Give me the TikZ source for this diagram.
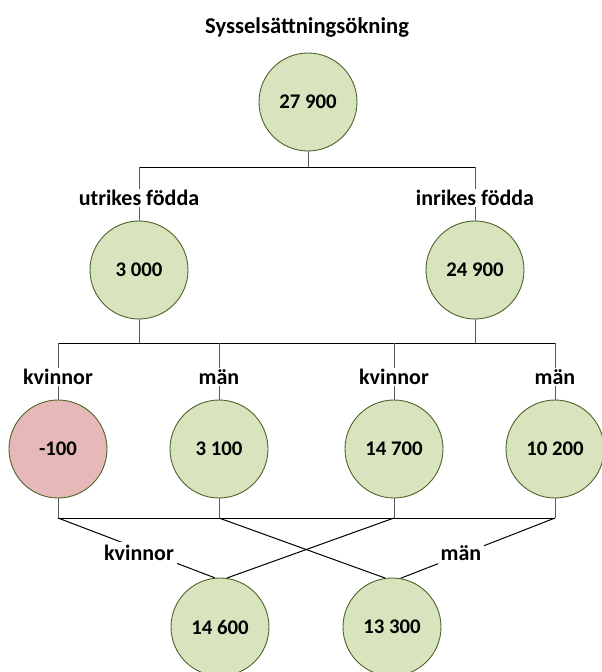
\documentclass[tikz,border=0pt]{standalone}
\usepackage{fontspec}
\setmainfont{Carlito}
\definecolor{cfill}{HTML}{D7E4BD}
\definecolor{rfill}{HTML}{E6B9B8}
\definecolor{cedge}{HTML}{4F6228}
\definecolor{lgray}{HTML}{5A5A5A}
\begin{document}
\begin{tikzpicture}[x=1pt,y=-1pt,
  circ/.style={circle, draw=cedge, line width=0.9pt, fill=cfill, minimum size=98pt, inner sep=0pt,
    font=\fontsize{20.8}{25}\selectfont\bfseries},
  neg/.style={circ, fill=rfill},
  lbl/.style={fill=white, inner sep=1pt, font=\fontsize{22}{26}\selectfont\bfseries},
  hline/.style={line width=1pt, black},
  vline/.style={line width=1pt, lgray},
  dline/.style={line width=1pt, black}]
\useasboundingbox (0,0) rectangle (602,672);
% title
\node[font=\fontsize{22.6}{27}\selectfont\bfseries] (title) at (307,27) {Sysselsättningsökning};
% circles
\node[circ] (t) at (308,102) {27 900};
\node[circ] (u) at (139,270) {3 000};
\node[circ] (i) at (475,270) {24 900};
\node[neg]  (a) at (58,449) {-100};
\node[circ] (b) at (219,449) {3 100};
\node[circ] (c) at (394,449) {14 700};
\node[circ] (d) at (555,449) {10 200};
\node[circ] (e) at (220,627) {14 600};
\node[circ] (f) at (392,627) {13 300};
% junction coordinates
\coordinate (jt) at (308,167);
\coordinate (jl) at (139,167);
\coordinate (jr) at (475,167);
\coordinate (ju) at (139,343);
\coordinate (ji) at (475,343);
\coordinate (ja) at (58,343);
\coordinate (jb) at (219,343);
\coordinate (jc) at (394,343);
\coordinate (jd) at (555,343);
\coordinate (ka) at (58,518);
\coordinate (kb) at (219,518);
\coordinate (kc) at (394,518);
\coordinate (kd) at (555,518);
% connectors level 1
\draw[vline] (t) -- (jt);
\draw[hline] (jl) -- (jr);
\draw[vline] (jl) -- (u);
\draw[vline] (jr) -- (i);
% level 2
\draw[vline] (u) -- (ju);
\draw[vline] (i) -- (ji);
\draw[hline] (ja) -- (jd);
\draw[vline] (ja) -- (a);
\draw[vline] (jb) -- (b);
\draw[vline] (jc) -- (c);
\draw[vline] (jd) -- (d);
% level 3
\draw[vline] (a) -- (ka);
\draw[vline] (b) -- (kb);
\draw[vline] (c) -- (kc);
\draw[vline] (d) -- (kd);
\draw[hline] (ka) -- (kd);
\draw[dline] (ka) -- (e.96);
\draw[dline] (kc) -- (e.82);
\draw[dline] (kb) -- (f.98);
\draw[dline] (kd) -- (f.80);
% labels
\node[lbl] (lu) at (139,198) {utrikes födda};
\node[lbl] (li) at (475,198) {inrikes födda};
\node[lbl] (la) at (58,377) {kvinnor};
\node[lbl] (lb) at (219,377) {män};
\node[lbl] (lc) at (394,377) {kvinnor};
\node[lbl] (ld) at (555,377) {män};
\node[lbl,inner sep=3pt] (le) at (139,553) {kvinnor};
\node[lbl,inner sep=3pt] (lf) at (461,553) {män};
\end{tikzpicture}
\end{document}
